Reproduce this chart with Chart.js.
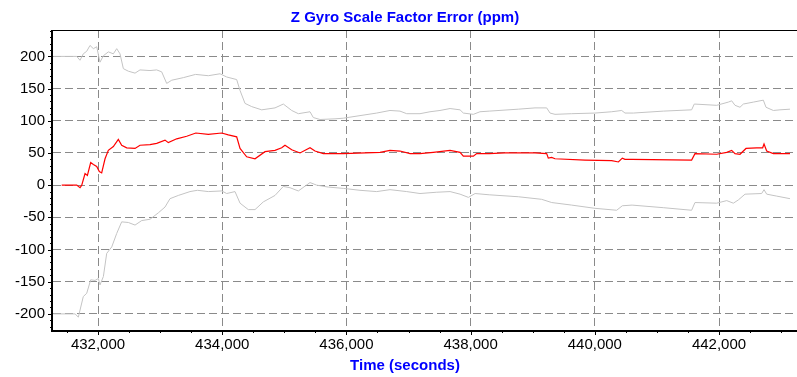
<!DOCTYPE html>
<html>
<head>
<meta charset="utf-8">
<script src="https://cdn.jsdelivr.net/npm/chart.js@4"></script>
<style>
    html, body { margin: 0; padding: 0; background: #fff; }
    #wrap { position: relative; width: 797px; height: 377px; }
</style>
</head>
<body>
<div id="wrap"><canvas id="gyroChart"></canvas></div>
<script>
// ---- data (time in seconds, value in ppm) ----
const estTime = [431415, 431657, 431710, 431738, 431791, 431829, 431882, 431925, 431979, 432021, 432059, 432113, 432166, 432247, 432327, 432381, 432462, 432596, 432676, 432837, 432945, 433079, 433132, 433267, 433428, 433575, 433776, 433992, 434098, 434233, 434287, 434394, 434528, 434689, 434850, 434958, 435011, 435119, 435253, 435414, 435494, 435628, 435950, 436541, 436702, 436863, 437024, 437185, 437399, 437669, 437830, 437883, 438044, 438098, 438300, 438554, 439037, 439225, 439251, 439306, 439359, 439842, 440272, 440380, 440443, 440486, 440600, 441559, 441613, 441963, 442124, 442204, 442258, 442338, 442435, 442607, 442703, 442725, 442768, 442875, 443143];
const estValue = [0, 0, -4, 0, 18, 15, 35, 32, 29, 21, 19, 41, 54, 60, 71, 62, 58, 57, 62, 63, 65, 70, 66, 72, 76, 81, 79, 81, 78, 75, 57, 44, 41, 52, 54, 58, 62, 55, 50, 58, 53, 49, 49, 51, 54, 53, 49, 49, 51, 54, 51, 45, 45, 49, 49, 50, 50, 49, 42, 43, 41, 39, 38, 36, 42, 40, 40, 39, 49, 48, 51, 54, 49, 48, 57, 58, 58, 64, 53, 49, 49];

const upperTime = [431280, 431657, 431710, 431763, 431818, 431871, 431925, 431979, 432032, 432086, 432166, 432247, 432301, 432354, 432408, 432488, 432596, 432676, 432837, 432945, 433025, 433106, 433187, 433374, 433570, 433776, 433965, 434072, 434233, 434287, 434367, 434475, 434636, 434850, 434984, 435119, 435226, 435414, 435467, 435575, 435816, 435950, 436219, 436488, 436702, 436863, 436971, 437185, 437346, 437507, 437669, 437830, 437883, 438044, 438151, 438300, 438768, 439037, 439225, 439279, 439359, 439628, 440003, 440272, 440433, 440486, 440620, 441103, 441559, 441602, 441963, 442150, 442204, 442258, 442338, 442392, 442553, 442714, 442757, 442875, 442982, 443143];
const upperValue = [200, 200, 194, 204, 208, 217, 212, 215, 191, 201, 207, 204, 212, 204, 181, 177, 174, 179, 178, 179, 176, 158, 163, 167, 172, 170, 173, 168, 164, 147, 127, 122, 117, 120, 126, 116, 111, 114, 105, 102, 103, 104, 108, 112, 116, 115, 111, 111, 114, 116, 119, 117, 112, 110, 114, 115, 118, 120, 120, 112, 110, 111, 112, 114, 116, 112, 112, 115, 117, 126, 124, 129, 131, 124, 121, 126, 129, 132, 121, 116, 117, 118];

const lowerTime = [431280, 431630, 431683, 431763, 431818, 431882, 431952, 432005, 432032, 432086, 432140, 432221, 432301, 432381, 432488, 432596, 432704, 432837, 432971, 433079, 433159, 433293, 433481, 433600, 433776, 433992, 434072, 434206, 434287, 434420, 434528, 434662, 434850, 434984, 435092, 435226, 435414, 435521, 435709, 435950, 436219, 436488, 436702, 436971, 437185, 437454, 437669, 437830, 437964, 438072, 438300, 438768, 439144, 439306, 439628, 440003, 440352, 440443, 440600, 441103, 441559, 441613, 441963, 442124, 442231, 442311, 442419, 442687, 442725, 442768, 442929, 443143];
const lowerValue = [-200, -200, -205, -173, -168, -147, -148, -145, -155, -142, -106, -96, -75, -57, -58, -62, -55, -53, -43, -34, -21, -16, -10, -8, -10, -9, -13, -10, -28, -38, -38, -26, -16, -2, -4, -9, 4, 0, -3, -5, -8, -10, -7, -10, -13, -11, -10, -14, -19, -13, -15, -18, -22, -27, -31, -36, -39, -32, -31, -35, -39, -27, -28, -24, -28, -23, -14, -13, -7, -14, -17, -21];

const xTicks = [432000, 434000, 436000, 438000, 440000, 442000];
const yTicks = [-200, -150, -100, -50, 0, 50, 100, 150, 200];
const xRange = [431275, 443256];
const yRange = [-225, 241];

const FONT = '"Liberation Sans", Arial, sans-serif';

function pairs(ts, vs) {
    return ts.map((t, i) => ({ x: t, y: vs[i] }));
}

// ---- axes, minor ticks, frame and titles drawn like the original plot ----
const framePlugin = {
    id: 'frame',
    afterDraw(chart) {
        const ctx = chart.ctx;
        const area = chart.chartArea;
        const xs = chart.scales.x;
        const ys = chart.scales.y;
        ctx.save();
        ctx.strokeStyle = '#000';

        // top border
        ctx.lineWidth = 1;
        ctx.beginPath();
        ctx.moveTo(area.left, area.top + 0.5);
        ctx.lineTo(area.right, area.top + 0.5);
        ctx.stroke();

        // y ticks every 10, longer at 50
        for (let v = -220; v <= 240; v += 10) {
            const y = Math.round(ys.getPixelForValue(v)) + 0.5;
            const len = v % 50 === 0 ? 5 : 3;
            ctx.beginPath();
            ctx.moveTo(area.left - len, y);
            ctx.lineTo(area.left, y);
            ctx.stroke();
        }
        // x ticks every 500
        for (let t = 431500; t <= 443000; t += 500) {
            const x = Math.round(xs.getPixelForValue(t)) + 0.5;
            const len = t % 2000 === 0 ? 5 : 3;
            ctx.beginPath();
            ctx.moveTo(x, area.bottom);
            ctx.lineTo(x, area.bottom + len);
            ctx.stroke();
        }

        // axis lines
        ctx.lineWidth = 2;
        ctx.beginPath();
        ctx.moveTo(area.left - 1, area.top);
        ctx.lineTo(area.left - 1, area.bottom + 1);
        ctx.lineTo(area.right, area.bottom + 1);
        ctx.stroke();

        // titles
        ctx.fillStyle = '#0000ff';
        ctx.font = 'bold 15px ' + FONT;
        ctx.textAlign = 'center';
        ctx.textBaseline = 'middle';
        ctx.fillText('Z Gyro Scale Factor Error (ppm)', 405, 18);
        ctx.fillText('Time (seconds)', 405, 366);
        ctx.restore();
    },
};

Chart.defaults.font.family = FONT;
Chart.defaults.font.size = 15;
Chart.defaults.color = '#000';

new Chart(document.getElementById('gyroChart'), {
    type: 'line',
    data: {
        datasets: [
            {
                label: 'Upper bound',
                data: pairs(upperTime, upperValue),
                borderColor: '#c4c4c4',
                borderWidth: 1,
            },
            {
                label: 'Lower bound',
                data: pairs(lowerTime, lowerValue),
                borderColor: '#c4c4c4',
                borderWidth: 1,
            },
            {
                label: 'Scale factor error',
                data: pairs(estTime, estValue),
                borderColor: '#ff0000',
                borderWidth: 1.2,
            },
        ],
    },
    options: {
        responsive: true,
        maintainAspectRatio: false,
        animation: false,
        elements: { point: { radius: 0 }, line: { tension: 0 } },
        layout: { padding: { top: 30, right: 0, left: 0, bottom: 0 } },
        plugins: {
            legend: { display: false },
            title: { display: false },
            tooltip: { enabled: false },
        },
        scales: {
            x: {
                type: 'linear',
                min: xRange[0],
                max: xRange[1],
                afterBuildTicks: s => { s.ticks = xTicks.map(v => ({ value: v })); },
                afterFit: s => { s.height = 47; },
                ticks: { padding: 6, maxRotation: 0, autoSkip: false },
                grid: { color: '#8a8a8a', drawTicks: false },
                border: { display: false, dash: [8, 4] },
            },
            y: {
                min: yRange[0],
                max: yRange[1],
                afterBuildTicks: s => { s.ticks = yTicks.map(v => ({ value: v })); },
                afterFit: s => { s.width = 53; },
                ticks: { padding: 8, autoSkip: false },
                grid: { color: '#8a8a8a', drawTicks: false },
                border: { display: false, dash: [8, 4] },
            },
        },
    },
    plugins: [framePlugin],
});
</script>
</body>
</html>
